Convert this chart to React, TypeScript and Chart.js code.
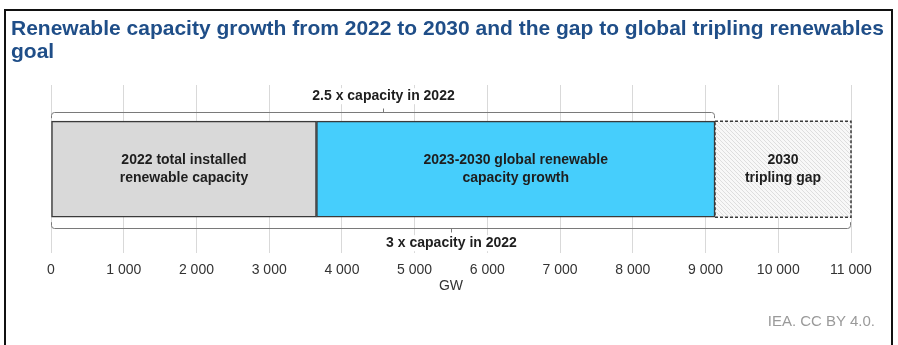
import React, { useEffect, useRef } from 'react';
import { Chart, registerables } from 'chart.js';

Chart.register(...registerables);

const titleLines = [
  'Renewable capacity growth from 2022 to 2030 and the gap to global tripling renewables',
  'goal',
];
const categories = ['Global renewable capacity'];
const seriesNames = [
  '2022 total installed renewable capacity',
  '2023-2030 global renewable capacity growth',
  '2030 tripling gap',
];
const barLabels = [
  ['2022 total installed', 'renewable capacity'],
  ['2023-2030 global renewable', 'capacity growth'],
  ['2030', 'tripling gap'],
];
const installed2022 = [3650];
const growth2023to2030 = [5480];
const triplingGap = [1870];
const axisMin = 0;
const axisMax = 11000;
const axisStep = 1000;
const bracketLabels = ['2.5 x capacity in 2022', '3 x capacity in 2022'];
const axisTitle = 'GW';
const sourceNote = 'IEA. CC BY 4.0.';

const FONT = "'Liberation Sans', Arial, sans-serif";

function makeHatch(): CanvasPattern | string {
  const c = document.createElement('canvas');
  c.width = 4;
  c.height = 4;
  const g = c.getContext('2d');
  if (!g) return '#f4f4f4';
  g.fillStyle = '#f8f8f8';
  g.fillRect(0, 0, 4, 4);
  g.strokeStyle = '#dedede';
  g.lineWidth = 1;
  for (const off of [-4, 0, 4]) {
    g.beginPath();
    g.moveTo(off, 0);
    g.lineTo(off + 4, 4);
    g.stroke();
  }
  const p = g.createPattern(c, 'repeat');
  return p || '#f4f4f4';
}

const fmt = (v: number) => String(v).replace(/\B(?=(\d{3})+(?!\d))/g, ' ');

const overlayPlugin = {
  id: 'overlay',
  afterDatasetsDraw(chart: any) {
    const ctx = chart.ctx as CanvasRenderingContext2D;
    const xs = chart.scales.x;
    const bars = [0, 1, 2].map((i) =>
      chart.getDatasetMeta(i).data[0].getProps(['x', 'y', 'base', 'height'], true)
    );
    ctx.save();
    // dashed border of gap
    const gb = bars[2];
    const gTop = gb.y - gb.height / 2;
    ctx.setLineDash([3, 2]);
    ctx.strokeStyle = '#3a3a3a';
    ctx.lineWidth = 1.5;
    ctx.strokeRect(gb.base, gTop, gb.x - gb.base, gb.height);
    ctx.setLineDash([]);

    // labels inside bars
    ctx.font = `bold 14px ${FONT}`;
    ctx.fillStyle = '#1e1e1e';
    ctx.textAlign = 'center';
    ctx.textBaseline = 'middle';
    bars.forEach((b: any, i: number) => {
      const cx = (b.base + b.x) / 2;
      const lines = barLabels[i];
      lines.forEach((ln, k) => {
        ctx.fillText(ln, cx, b.y + (k - (lines.length - 1) / 2) * 18);
      });
    });

    // brackets
    const top = bars[0].y - bars[0].height / 2;
    const bottom = bars[0].y + bars[0].height / 2;
    const x0 = xs.getPixelForValue(0);
    const x25 = xs.getPixelForValue(installed2022[0] + growth2023to2030[0]);
    const x3 = xs.getPixelForValue(installed2022[0] + growth2023to2030[0] + triplingGap[0]);
    ctx.strokeStyle = '#7a7a7a';
    ctx.lineWidth = 1;
    const r = 3;
    // top bracket
    const ty = Math.round(top - 9) + 0.5;
    ctx.beginPath();
    ctx.moveTo(x0 + 0.5, top - 3);
    ctx.arcTo(x0 + 0.5, ty, x0 + 10, ty, r);
    ctx.arcTo(x25 - 0.5, ty, x25 - 0.5, top - 3, r);
    ctx.lineTo(x25 - 0.5, top - 3);
    ctx.stroke();
    const tm = Math.round((x0 + x25) / 2) + 0.5;
    ctx.beginPath();
    ctx.moveTo(tm, ty);
    ctx.lineTo(tm, ty - 4);
    ctx.stroke();
    // bottom bracket
    const by = Math.round(bottom + 11) + 0.5;
    ctx.beginPath();
    ctx.moveTo(x0 + 0.5, bottom + 5);
    ctx.arcTo(x0 + 0.5, by, x0 + 10, by, r);
    ctx.arcTo(x3 - 0.5, by, x3 - 0.5, bottom + 5, r);
    ctx.lineTo(x3 - 0.5, bottom + 5);
    ctx.stroke();
    const bm = Math.round((x0 + x3) / 2) + 0.5;
    ctx.beginPath();
    ctx.moveTo(bm, by);
    ctx.lineTo(bm, by + 4);
    ctx.stroke();

    // bracket labels with white background
    ctx.font = `bold 14px ${FONT}`;
    const drawLbl = (t: string, x: number, y: number) => {
      const w = ctx.measureText(t).width;
      ctx.fillStyle = '#ffffff';
      ctx.fillRect(x - w / 2 - 2, y - 8, w + 4, 16);
      ctx.fillStyle = '#1e1e1e';
      ctx.fillText(t, x, y);
    };
    drawLbl(bracketLabels[0], tm, top - 25);
    drawLbl(bracketLabels[1], bm, bottom + 26);
    ctx.restore();
  },
};

export default function App() {
  const ref = useRef<HTMLCanvasElement | null>(null);
  useEffect(() => {
    if (!ref.current) return;
    const hatch = makeHatch();
    const chart = new Chart(ref.current, {
      type: 'bar',
      data: {
        labels: categories,
        datasets: [
          {
            label: seriesNames[0],
            data: installed2022,
            backgroundColor: '#d9d9d9',
            borderColor: '#3a3a3a',
            borderWidth: 1.5,
            borderSkipped: false,
            barThickness: 96,
          },
          {
            label: seriesNames[1],
            data: growth2023to2030,
            backgroundColor: '#46cefc',
            borderColor: '#3a3a3a',
            borderWidth: 1.5,
            borderSkipped: false,
            barThickness: 96,
          },
          {
            label: seriesNames[2],
            data: triplingGap,
            backgroundColor: hatch as any,
            borderWidth: 0,
            barThickness: 96,
          },
        ],
      },
      options: {
        indexAxis: 'y',
        responsive: false,
        animation: false,
        layout: { padding: { left: 51, right: 47, top: 85, bottom: 46 } },
        plugins: { legend: { display: false }, tooltip: { enabled: false } },
        scales: {
          x: {
            stacked: true,
            min: axisMin,
            max: axisMax,
            ticks: {
              stepSize: axisStep,
              callback: (v: any) => fmt(Number(v)),
              font: { family: FONT, size: 14 },
              color: '#333333',
              padding: 8,
              maxRotation: 0,
            },
            grid: { color: '#d9d9d9', drawTicks: false },
            border: { display: false },
            title: {
              display: true,
              text: axisTitle,
              font: { family: FONT, size: 14 },
              color: '#333333',
              padding: { top: -8, bottom: 4 },
            },
          },
          y: { stacked: true, display: false },
        },
      },
      plugins: [overlayPlugin],
    } as any);
    return () => chart.destroy();
  }, []);

  return (
    <div
      style={{
        position: 'fixed',
        left: 0,
        top: 0,
        width: 898,
        height: 345,
        overflow: 'hidden',
        background: '#ffffff',
      }}
    >
      <canvas ref={ref} width={898} height={345} style={{ position: 'absolute', left: 0, top: 0 }} />
      <div
        style={{
          position: 'absolute',
          left: 4,
          top: 9,
          width: 889,
          height: 400,
          border: '2px solid #111111',
          borderBottom: 'none',
          boxSizing: 'border-box',
          pointerEvents: 'none',
        }}
      />
      <div
        style={{
          position: 'absolute',
          left: 11,
          top: 16,
          fontFamily: FONT,
          fontWeight: 'bold',
          fontSize: 21,
          lineHeight: '23px',
          color: '#1f4e88',
          whiteSpace: 'nowrap',
        }}
      >
        {titleLines.map((l, i) => (
          <div key={i}>{l}</div>
        ))}
      </div>
      <div
        style={{
          position: 'absolute',
          right: 23,
          top: 312,
          fontFamily: FONT,
          fontSize: 15,
          color: '#9a9a9a',
          whiteSpace: 'nowrap',
        }}
      >
        {sourceNote}
      </div>
    </div>
  );
}
